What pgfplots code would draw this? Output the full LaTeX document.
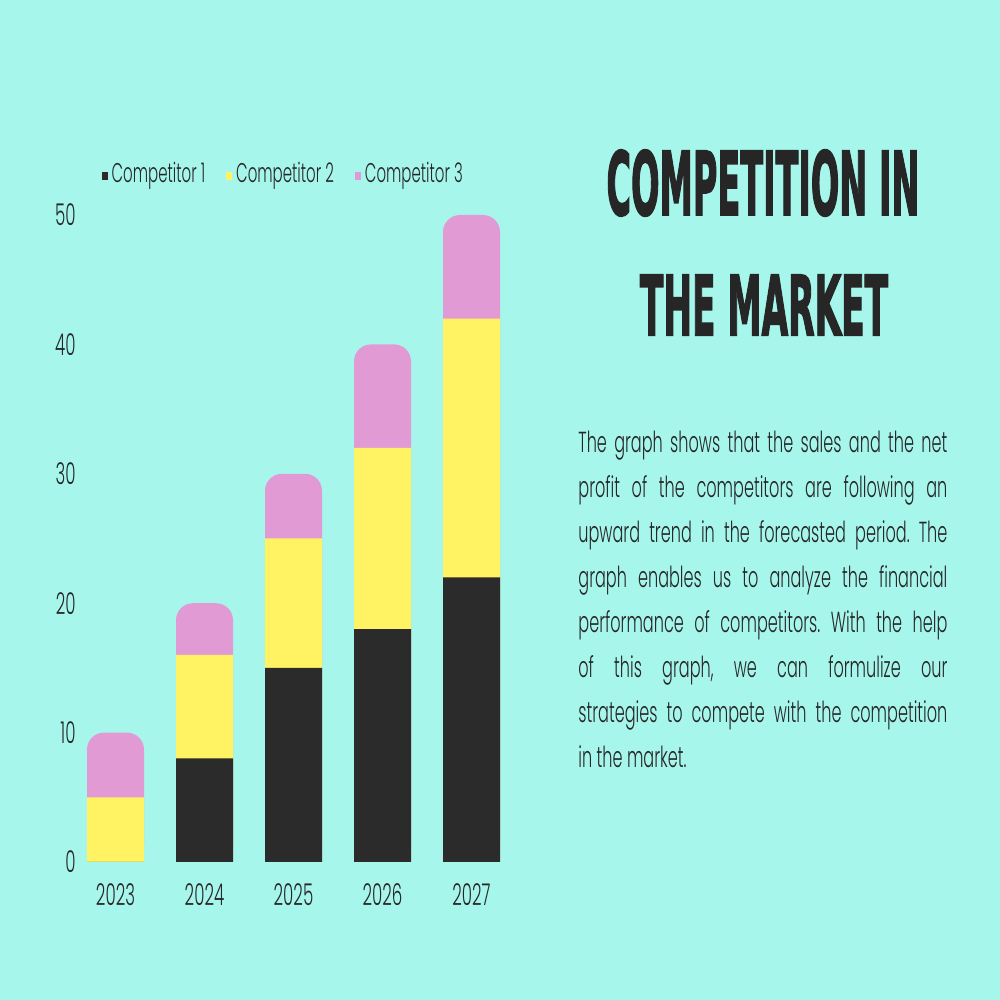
\documentclass[border=0pt]{standalone}
\usepackage{pgfplots}
\pgfplotsset{compat=1.18}
\usepackage{pgfplotstable}
\usepackage{fontspec}
\setmainfont{Poppins Light}[FakeStretch=0.555]
\newfontfamily\titlefont{DejaVu Sans}[FakeBold=2.5]
\definecolor{bg}{HTML}{A6F6EC}
\definecolor{cA}{HTML}{2B2B2B}
\definecolor{cB}{HTML}{FFF263}
\definecolor{cC}{HTML}{E29AD4}
\definecolor{txt}{HTML}{262626}

\pgfplotstableread{
x year c1 c2 c3
0 2023 0 5 5
1 2024 8 8 4
2 2025 15 10 5
3 2026 18 14 8
4 2027 22 20 8
}\datatable

\begin{document}
\frenchspacing
\begin{tikzpicture}[x=1pt,y=1pt]
\fill[bg] (0,0) rectangle (500,500);
\begin{axis}[
  at={(35.5pt,69pt)}, anchor=south west,
  scale only axis, width=222.5pt, height=323.5pt,
  xmin=-0.5, xmax=4.5, ymin=0, ymax=50,
  axis line style={draw=none}, major tick length=0pt,
  xtick={0,1,2,3,4}, xticklabels={2023,2024,2025,2026,2027},
  ytick={0,10,20,30,40,50},
  /pgf/number format/assume math mode=true,
  xticklabel style={font=\fontsize{15}{16}\selectfont, text=txt, anchor=north, inner sep=0pt, yshift=-10.5pt},
  yticklabel style={font=\fontsize{15}{16}\selectfont, text=txt, anchor=east, inner sep=0pt, xshift=2.5pt},
  ybar, bar width=28.5pt, bar shift=0pt,
  clip=false,
  legend columns=3,
  legend style={at={(0.068,1.063)}, anchor=west, draw=none, fill=none,
    font=\fontsize{13.5}{15}\selectfont, text=txt, inner sep=0pt,
    /tikz/every even column/.append style={column sep=8.5pt}},
  legend cell align=left,
  legend image code/.code={\fill[draw=none] (0pt,-3pt) rectangle (3pt,1pt);},
]
\addlegendimage{fill=cA, draw=none}
\addlegendimage{fill=cB, draw=none}
\addlegendimage{fill=cC, draw=none}
\addplot[fill=cC, draw=none, rounded corners=8.5pt, forget plot] table[x=x, y expr=\thisrow{c1}+\thisrow{c2}+\thisrow{c3}] {\datatable};
\addplot[fill=cB, draw=none, forget plot] table[x=x, y expr=\thisrow{c1}+\thisrow{c2}] {\datatable};
\addplot[fill=cA, draw=none, forget plot] table[x=x, y=c1] {\datatable};
\legend{Competitor 1, Competitor 2, Competitor 3}
\end{axis}
\node[inner sep=0pt, text=txt] at (381.5,408.5) {\resizebox{156.5pt}{32.5pt}{\titlefont\bfseries COMPETITION IN}};
\node[inner sep=0pt, text=txt] at (382,347.5) {\resizebox{124pt}{30pt}{\titlefont\bfseries THE MARKET}};
\node[inner sep=0pt, anchor=base west, text=txt] at (289,273.5) {\parbox[t]{184.5pt}{\fontsize{14.5}{22.5}\selectfont
\hbox to 184.5pt{The graph shows that the sales and the net}
\hbox to 184.5pt{profit of the competitors are following an}
\hbox to 184.5pt{upward trend in the forecasted period. The}
\hbox to 184.5pt{graph enables us to analyze the financial}
\hbox to 184.5pt{performance of competitors. With the help}
\hbox to 184.5pt{of this graph, we can formulize our}
\hbox to 184.5pt{strategies to compete with the competition}
\hbox{in the market.}}};
\end{tikzpicture}
\end{document}
